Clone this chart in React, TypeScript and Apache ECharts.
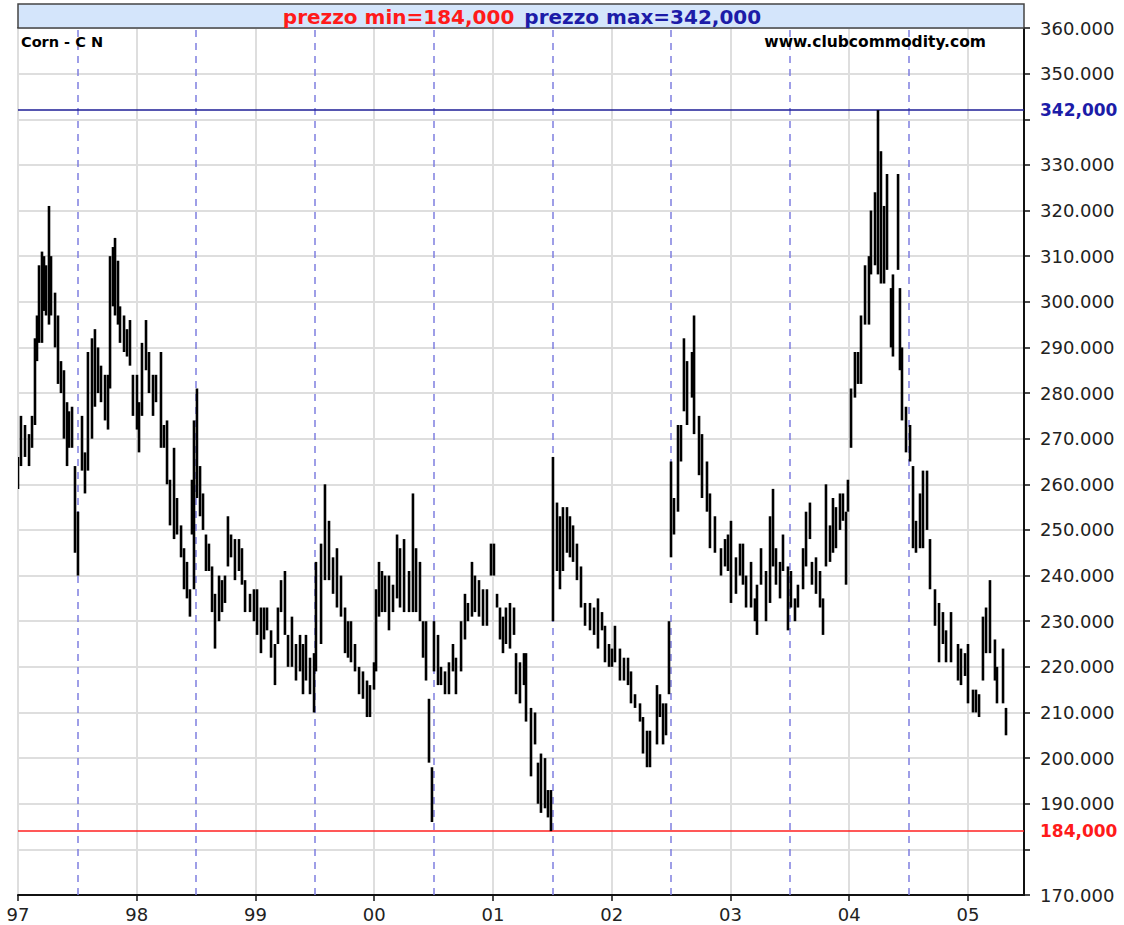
import React, { useEffect, useRef } from "react";
import * as echarts from "echarts";

// Corn - C N : high/low bars, time in fractional years
const dates = [
  1997.000, 1997.025, 1997.059, 1997.093, 1997.118, 1997.143, 1997.160, 1997.177, 1997.202, 1997.219,
  1997.236, 1997.261, 1997.278, 1997.312, 1997.337, 1997.362, 1997.387, 1997.413, 1997.429, 1997.455,
  1997.480, 1997.505, 1997.539, 1997.564, 1997.589, 1997.623, 1997.648, 1997.674, 1997.699, 1997.733,
  1997.758, 1997.775, 1997.800, 1997.817, 1997.842, 1997.859, 1997.893, 1997.918, 1997.943, 1997.968,
  1998.002, 1998.019, 1998.044, 1998.078, 1998.103, 1998.137, 1998.162, 1998.204, 1998.229, 1998.255,
  1998.280, 1998.314, 1998.339, 1998.373, 1998.398, 1998.423, 1998.448, 1998.465, 1998.482, 1998.507,
  1998.533, 1998.558, 1998.583, 1998.608, 1998.634, 1998.659, 1998.693, 1998.718, 1998.743, 1998.768,
  1998.794, 1998.827, 1998.861, 1998.886, 1998.912, 1998.954, 1998.987, 1999.013, 1999.046, 1999.072,
  1999.097, 1999.131, 1999.164, 1999.189, 1999.215, 1999.248, 1999.274, 1999.307, 1999.341, 1999.375,
  1999.400, 1999.425, 1999.459, 1999.493, 1999.509, 1999.552, 1999.585, 1999.619, 1999.653, 1999.686,
  1999.720, 1999.754, 1999.779, 1999.804, 1999.838, 1999.872, 1999.905, 1999.939, 1999.964, 1999.998,
  2000.015, 2000.040, 2000.065, 2000.091, 2000.124, 2000.158, 2000.192, 2000.217, 2000.251, 2000.293,
  2000.326, 2000.352, 2000.385, 2000.411, 2000.436, 2000.461, 2000.486, 2000.503, 2000.537, 2000.562,
  2000.596, 2000.629, 2000.663, 2000.688, 2000.731, 2000.764, 2000.789, 2000.823, 2000.848, 2000.882,
  2000.916, 2000.949, 2000.983, 2001.008, 2001.034, 2001.059, 2001.084, 2001.109, 2001.143, 2001.177,
  2001.194, 2001.227, 2001.261, 2001.278, 2001.320, 2001.354, 2001.379, 2001.404, 2001.438, 2001.463,
  2001.488, 2001.505, 2001.539, 2001.564, 2001.589, 2001.623, 2001.648, 2001.674, 2001.707, 2001.741,
  2001.775, 2001.817, 2001.851, 2001.884, 2001.918, 2001.943, 2001.977, 2002.002, 2002.027, 2002.069,
  2002.103, 2002.137, 2002.162, 2002.196, 2002.238, 2002.263, 2002.297, 2002.322, 2002.381, 2002.406,
  2002.432, 2002.457, 2002.482, 2002.499, 2002.524, 2002.558, 2002.583, 2002.608, 2002.634, 2002.676,
  2002.693, 2002.735, 2002.760, 2002.802, 2002.827, 2002.869, 2002.920, 2002.954, 2002.979, 2003.004,
  2003.046, 2003.080, 2003.105, 2003.131, 2003.173, 2003.206, 2003.223, 2003.257, 2003.299, 2003.333,
  2003.358, 2003.383, 2003.417, 2003.442, 2003.484, 2003.509, 2003.543, 2003.568, 2003.611, 2003.636,
  2003.669, 2003.686, 2003.720, 2003.754, 2003.779, 2003.804, 2003.838, 2003.863, 2003.888, 2003.922,
  2003.947, 2003.973, 2003.989, 2004.015, 2004.048, 2004.074, 2004.099, 2004.133, 2004.166, 2004.183,
  2004.217, 2004.242, 2004.267, 2004.293, 2004.318, 2004.352, 2004.368, 2004.411, 2004.427, 2004.444,
  2004.478, 2004.512, 2004.537, 2004.562, 2004.596, 2004.621, 2004.655, 2004.680, 2004.722, 2004.756,
  2004.789, 2004.815, 2004.857, 2004.916, 2004.941, 2004.975, 2005.000, 2005.042, 2005.067, 2005.093,
  2005.126, 2005.152, 2005.185, 2005.227, 2005.244, 2005.295, 2005.320,
];

const lows = [
  259, 264, 266, 264, 268, 273, 287, 291, 291, 298,
  297, 295, 297, 290, 282, 280, 270, 264, 268, 268,
  245, 240, 263, 258, 263, 270, 277, 280, 278, 274,
  272, 281, 299, 297, 295, 291, 289, 288, 286, 275,
  272, 267, 275, 285, 280, 275, 278, 268, 268, 260,
  251, 248, 249, 244, 237, 235, 231, 249, 237, 257,
  253, 250, 241, 241, 232, 224, 230, 232, 234, 242,
  244, 239, 241, 238, 232, 232, 230, 227, 223, 226,
  228, 222, 216, 225, 232, 227, 220, 220, 217, 219,
  214, 217, 214, 210, 219, 225, 239, 239, 236, 233,
  231, 223, 222, 221, 219, 214, 213, 209, 209, 215,
  219, 231, 232, 232, 228, 232, 235, 233, 232, 232,
  232, 232, 230, 222, 217, 199, 186, 219, 216, 216,
  214, 214, 219, 214, 219, 226, 230, 231, 232, 231,
  229, 229, 240, 240, 233, 226, 223, 225, 224, 227,
  214, 212, 216, 208, 196, 203, 190, 188, 189, 187,
  184, 230, 241, 237, 241, 245, 244, 243, 239, 233,
  229, 228, 227, 224, 228, 221, 220, 220, 221, 217,
  217, 216, 212, 211, 208, 201, 198, 198, 203, 209,
  203, 205, 214, 244, 249, 254, 265, 276, 273, 279,
  271, 262, 257, 254, 246, 245, 240, 242, 241, 234,
  236, 240, 238, 233, 233, 230, 227, 238, 230, 234,
  242, 238, 235, 241, 228, 233, 230, 233, 237, 242,
  248, 238, 236, 233, 227, 242, 243, 245, 246, 250,
  252, 238, 254, 268, 279, 282, 282, 295, 295, 306,
  308, 306, 304, 304, 307, 290, 288, 307, 285, 274,
  267, 265, 246, 245, 246, 246, 250, 237, 229, 221,
  225, 221, 221, 217, 216, 218, 212, 210, 210, 209,
  217, 223, 223, 217, 212, 212, 205,
];

const highs = [
  266, 275, 273, 271, 275, 292, 297, 308, 311, 310,
  308, 321, 310, 302, 297, 287, 285, 278, 276, 277,
  264, 254, 275, 267, 289, 292, 294, 290, 286, 284,
  284, 310, 312, 314, 309, 299, 297, 294, 296, 284,
  284, 278, 291, 296, 289, 284, 284, 289, 273, 274,
  261, 268, 257, 251, 246, 243, 237, 261, 274, 281,
  264, 258, 249, 247, 242, 236, 240, 239, 240, 253,
  249, 248, 248, 246, 239, 236, 237, 237, 233, 233,
  233, 228, 225, 233, 239, 241, 227, 231, 225, 227,
  225, 227, 222, 223, 243, 247, 260, 252, 244, 246,
  240, 233, 230, 230, 225, 220, 219, 217, 216, 221,
  237, 243, 241, 240, 240, 238, 249, 246, 248, 241,
  258, 246, 243, 230, 230, 213, 198, 230, 227, 220,
  219, 221, 225, 222, 230, 236, 234, 243, 240, 239,
  237, 237, 247, 247, 236, 233, 231, 233, 234, 233,
  223, 221, 223, 223, 211, 210, 199, 201, 200, 193,
  193, 266, 256, 253, 255, 255, 253, 251, 247, 242,
  234, 234, 233, 235, 232, 229, 225, 224, 229, 224,
  222, 222, 219, 214, 212, 209, 206, 206, 216, 214,
  212, 212, 230, 265, 257, 273, 273, 292, 287, 289,
  297, 275, 271, 265, 258, 253, 246, 248, 249, 252,
  244, 247, 247, 240, 243, 235, 238, 246, 241, 253,
  259, 246, 243, 249, 242, 241, 235, 238, 246, 254,
  256, 243, 244, 241, 235, 260, 251, 257, 255, 258,
  258, 254, 261, 281, 289, 289, 297, 308, 310, 320,
  324, 342, 333, 321, 328, 303, 306, 328, 303, 290,
  277, 273, 264, 252, 258, 263, 263, 248, 237, 234,
  232, 228, 232, 225, 224, 223, 225, 215, 215, 214,
  231, 233, 239, 226, 220, 224, 211,
];

const halfYearMarks = [1997.5, 1998.5, 1999.5, 2000.5, 2001.5, 2002.5, 2003.5, 2004.5];
const hiddenYLabels = [180, 340];
const instrumentName = "Corn - C N";
const siteName = "www.clubcommodity.com";

const FONT = "DejaVu Sans, Verdana, sans-serif";
const fmtPrice = (v: number) => v.toFixed(3).replace(".", ",");

export default function App() {
  const ref = useRef<HTMLDivElement>(null);

  useEffect(() => {
    if (!ref.current) return;
    const chart = echarts.init(ref.current, null, { renderer: "svg" });
    const data = dates.map((d, i) => [d, lows[i], highs[i]]);
    const minV = Math.min(...lows);
    const maxV = Math.max(...highs);

    chart.setOption({
      animation: false,
      backgroundColor: "#ffffff",
      grid: {
        left: 18,
        right: 100,
        top: 28,
        bottom: 30,
        show: true,
        borderColor: "#111",
        borderWidth: 1.5,
        backgroundColor: "transparent",
      },
      xAxis: {
        type: "value",
        min: 1997,
        max: 1997 + 1006 / 118.75,
        interval: 1,
        axisLine: { show: true, lineStyle: { color: "#111", width: 2 } },
        axisTick: { show: true, length: 6, lineStyle: { color: "#111", width: 1.5 } },
        axisLabel: {
          margin: 10,
          fontSize: 18,
          color: "#222",
          fontFamily: FONT,
          showMaxLabel: false,
          formatter: (v: number) => String(Math.round(v) % 100).padStart(2, "0"),
        },
        splitLine: { show: true, lineStyle: { color: "#dedede", width: 2 } },
      },
      yAxis: {
        type: "value",
        position: "right",
        min: 170,
        max: 360,
        interval: 10,
        axisLine: { show: true, lineStyle: { color: "#111", width: 2 } },
        axisTick: { show: true, length: 6, lineStyle: { color: "#111", width: 1.5 } },
        axisLabel: {
          margin: 16,
          fontSize: 18,
          color: "#222",
          fontFamily: FONT,
          formatter: (v: number) => (hiddenYLabels.includes(v) ? "" : v + ".000"),
        },
        splitLine: { show: true, lineStyle: { color: "#dedede", width: 2 } },
      },
      graphic: [
        {
          type: "rect",
          shape: { x: 18, y: 4, width: 1006, height: 24 },
          style: { fill: "#d4e5fb", stroke: "#444", lineWidth: 1.5 },
          z: 10,
        },
        {
          type: "text",
          x: 522,
          y: 17,
          z: 11,
          style: {
            text: `{a|prezzo min=${fmtPrice(minV)}}   {b|prezzo max=${fmtPrice(maxV)}}`,
            align: "center",
            verticalAlign: "middle",
            rich: {
              a: { fill: "#ff1a1a", fontWeight: "bold", fontSize: 20, fontFamily: FONT },
              b: { fill: "#1c1ca8", fontWeight: "bold", fontSize: 20, fontFamily: FONT },
            },
          },
        },
        {
          type: "text",
          x: 21,
          y: 42,
          z: 11,
          style: {
            text: instrumentName,
            fill: "#000",
            font: `bold 14.5px ${FONT}`,
            verticalAlign: "middle",
          },
        },
        {
          type: "text",
          x: 986,
          y: 42,
          z: 11,
          style: {
            text: siteName,
            fill: "#000",
            font: `bold 15.5px ${FONT}`,
            align: "right",
            verticalAlign: "middle",
          },
        },
      ],
      series: [
        {
          type: "custom",
          clip: true,
          data,
          encode: { x: 0, y: [1, 2] },
          z: 5,
          renderItem: (params: any, api: any) => {
            const x = api.value(0);
            const p1 = api.coord([x, api.value(1)]);
            const p2 = api.coord([x, api.value(2)]);
            return {
              type: "line",
              shape: { x1: p1[0], y1: p1[1], x2: p2[0], y2: p2[1] },
              style: { stroke: "#000", lineWidth: 2.6 },
            };
          },
          markLine: {
            silent: true,
            symbol: ["none", "none"],
            z: 4,
            data: [
              ...halfYearMarks.map((v) => ({
                xAxis: v,
                lineStyle: { color: "#7f7fe0", type: [7, 6], width: 1.5 },
                label: { show: false },
              })),
              {
                yAxis: maxV,
                lineStyle: { color: "#1e1e96", type: "solid", width: 1.5 },
                label: {
                  show: true,
                  position: "end",
                  distance: 16,
                  formatter: fmtPrice(maxV),
                  color: "#1c1ca8",
                  fontWeight: "bold",
                  fontSize: 17,
                  fontFamily: FONT,
                },
              },
              {
                yAxis: minV,
                lineStyle: { color: "#ff2020", type: "solid", width: 1.5 },
                label: {
                  show: true,
                  position: "end",
                  distance: 16,
                  formatter: fmtPrice(minV),
                  color: "#ff1a1a",
                  fontWeight: "bold",
                  fontSize: 17,
                  fontFamily: FONT,
                },
              },
            ],
          },
        },
      ],
    });

    return () => chart.dispose();
  }, []);

  return (
    <div
      ref={ref}
      style={{ position: "fixed", left: 0, top: 0, width: 1124, height: 925 }}
    />
  );
}
